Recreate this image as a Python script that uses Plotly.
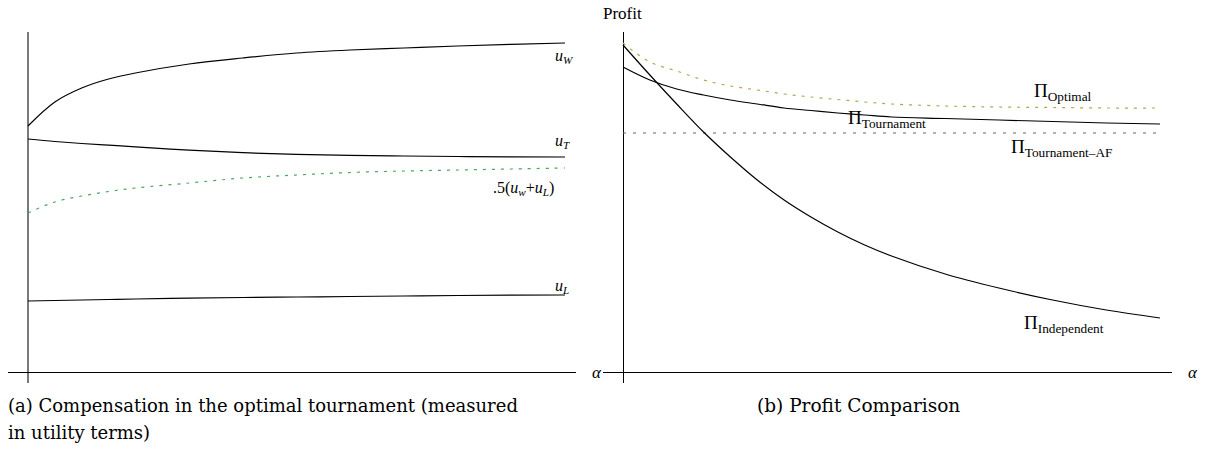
import plotly.graph_objects as go

# ---- data (arbitrary units) ----
alpha = [0, 0.5, 1, 1.5, 2, 3, 4, 5, 6, 7, 8, 9, 10]
u_W = [24.6, 27.0, 28.4, 29.3, 29.9, 30.8, 31.4, 31.9, 32.2, 32.4, 32.6, 32.77, 32.9]
u_T = [23.3, 23.05, 22.85, 22.68, 22.52, 22.18, 21.93, 21.77, 21.66, 21.6, 21.55, 21.51, 21.5]
u_avg = [15.9, 17.0, 17.6, 18.05, 18.4, 18.9, 19.4, 19.7, 19.95, 20.1, 20.2, 20.3, 20.4]
u_L = [7.1, 7.15, 7.2, 7.25, 7.3, 7.38, 7.45, 7.5, 7.55, 7.6, 7.65, 7.68, 7.7]

alpha_b = [0, 0.5, 1, 1.5, 2, 2.5, 3, 3.5, 4, 4.5, 5, 6, 7, 8, 9, 10]
pi_opt = [32.9, 31.0, 30.1, 29.2, 28.6, 28.2, 27.8, 27.5, 27.25, 27.0, 26.8, 26.6, 26.5, 26.45, 26.4, 26.4]
pi_tour = [30.5, 29.2, 28.3, 27.7, 27.2, 26.8, 26.4, 26.15, 25.9, 25.7, 25.5, 25.35, 25.2, 25.05, 24.9, 24.8]
pi_af = [23.9] * 16
pi_ind = [32.7, 29.7, 26.8, 24.0, 21.5, 19.2, 17.2, 15.5, 14.0, 12.7, 11.6, 9.8, 8.4, 7.2, 6.2, 5.4]

caption_a1 = "(a) Compensation in the optimal tournament (measured"
caption_a2 = "in utility terms)"
caption_b = "(b) Profit Comparison"

W, H = 1210, 457
SERIF = "Liberation Serif"
CAPFONT = "DejaVu Serif"

def px(x):
    return x / W

def py(y):
    return 1 - y / H

fig = go.Figure()

fig.add_trace(go.Scatter(x=alpha, y=u_W, mode="lines", line=dict(color="black", width=1.2, shape="spline"), xaxis="x", yaxis="y"))
fig.add_trace(go.Scatter(x=alpha, y=u_T, mode="lines", line=dict(color="black", width=1.2, shape="spline"), xaxis="x", yaxis="y"))
fig.add_trace(go.Scatter(x=alpha, y=u_avg, mode="lines", line=dict(color="#4aa862", width=1.2, dash="3px,6px", shape="spline"), xaxis="x", yaxis="y"))
fig.add_trace(go.Scatter(x=alpha, y=u_L, mode="lines", line=dict(color="black", width=1.2, shape="spline"), xaxis="x", yaxis="y"))

fig.add_trace(go.Scatter(x=alpha_b, y=pi_opt, mode="lines", line=dict(color="#b5a455", width=1.2, dash="3px,6px", shape="spline"), xaxis="x2", yaxis="y2"))
fig.add_trace(go.Scatter(x=alpha_b, y=pi_tour, mode="lines", line=dict(color="black", width=1.2, shape="spline"), xaxis="x2", yaxis="y2"))
fig.add_trace(go.Scatter(x=alpha_b, y=pi_af, mode="lines", line=dict(color="#666666", width=1.2, dash="3px,7px"), xaxis="x2", yaxis="y2"))
fig.add_trace(go.Scatter(x=alpha_b, y=pi_ind, mode="lines", line=dict(color="black", width=1.2, shape="spline"), xaxis="x2", yaxis="y2"))

scale = 53.7
yscale = 10.0
ax_common = dict(showgrid=False, showticklabels=False, ticks="", showline=False, zeroline=True)

fig.update_layout(
    width=W, height=H,
    margin=dict(l=0, r=0, t=0, b=0),
    paper_bgcolor="white", plot_bgcolor="white",
    showlegend=False,
    xaxis=dict(domain=[px(8), px(576)], range=[(8 - 28) / scale, (576 - 28) / scale],
               zerolinecolor="#7a7a7a", zerolinewidth=1.6, **ax_common),
    yaxis=dict(domain=[py(383), py(32)], range=[(372 - 383) / yscale, (372 - 32) / yscale],
               zerolinecolor="black", zerolinewidth=1.2, **ax_common),
    xaxis2=dict(domain=[px(603), px(1172)], range=[(603 - 623) / scale, (1172 - 623) / scale],
                zerolinecolor="black", zerolinewidth=1.2, anchor="y2", **ax_common),
    yaxis2=dict(domain=[py(383), py(32)], range=[(372 - 383) / yscale, (372 - 32) / yscale],
                zerolinecolor="black", zerolinewidth=1.2, anchor="x2", **ax_common),
)

def lab(text, x, y, size=16, xanchor="left", yanchor="middle", family=SERIF):
    fig.add_annotation(text=text, x=x, y=y, xref="paper", yref="paper", xanchor=xanchor, yanchor=yanchor,
                       showarrow=False, font=dict(family=family, size=size, color="black"))

# left labels
lab("<i>u</i><sub><i>W</i></sub>", px(553), py(56))
lab("<i>u</i><sub><i>T</i></sub>", px(553), py(141))
lab(".5(<i>u</i><sub><i>w</i></sub>+<i>u</i><sub><i>L</i></sub>)", px(556), py(188), size=16, xanchor="right")
lab("<i>u</i><sub><i>L</i></sub>", px(553), py(286))
lab("<i>α</i>", px(590), py(372), size=17)

# right labels
lab("Profit", px(601), py(13), size=17)
lab("Π<sub>Optimal</sub>", px(1032), py(92), size=19)
lab("Π<sub>Tournament</sub>", px(846), py(119), size=19)
lab("Π<sub>Tournament–AF</sub>", px(1009), py(148), size=19)
lab("Π<sub>Independent</sub>", px(1022), py(324), size=19)
lab("<i>α</i>", px(1186), py(372), size=17)

# captions
lab(caption_a1, px(6), py(405), size=18, family=CAPFONT)
lab(caption_a2, px(6), py(432), size=18, family=CAPFONT)
lab(caption_b, px(858), py(405), size=18.5, xanchor="center", family=CAPFONT)

fig.write_html("out.html", config={"displayModeBar": False},
               post_script="document.body.style.margin='0';document.body.style.overflow='hidden';")
